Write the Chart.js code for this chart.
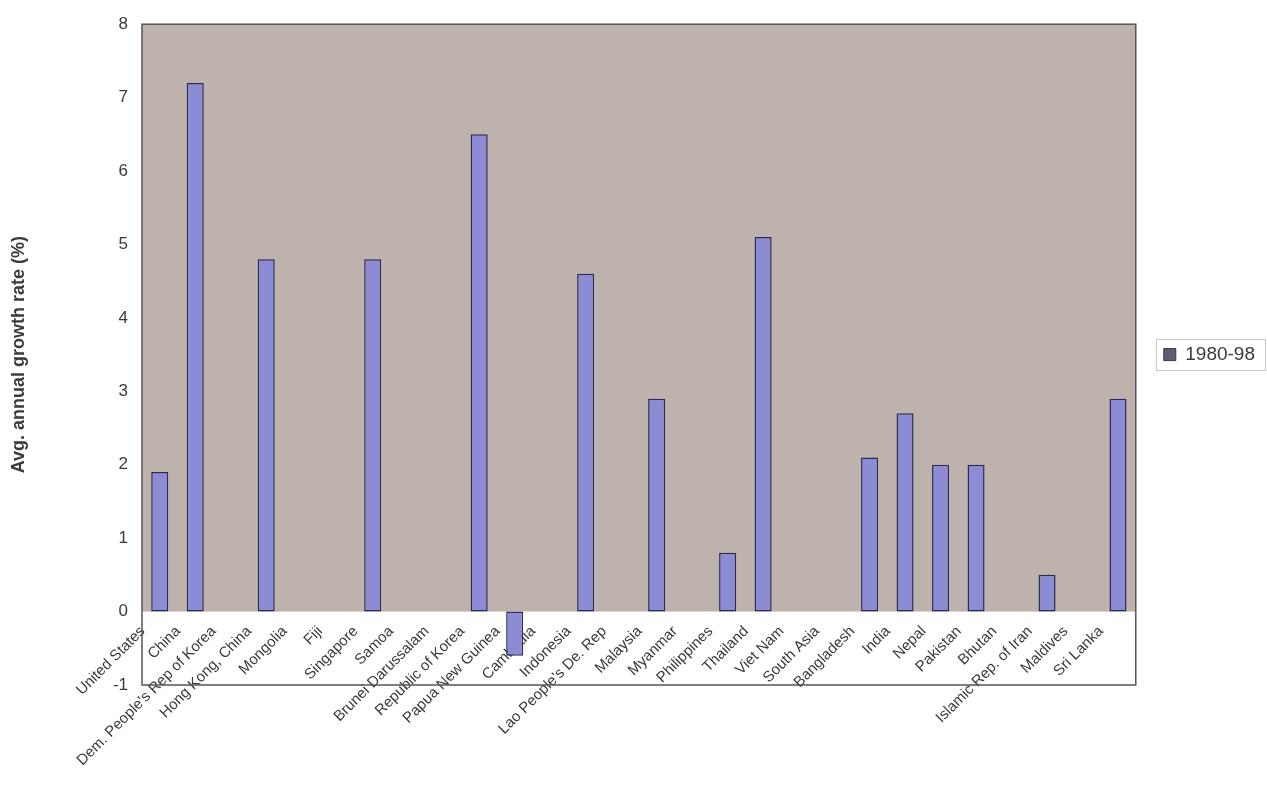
<!DOCTYPE html>
<html>
<head>
<meta charset="utf-8">
<script src="https://cdn.jsdelivr.net/npm/chart.js@4/dist/chart.umd.min.js"></script>
<style>
  html, body { margin: 0; padding: 0; background: #ffffff; }
  #wrap { width: 1267px; height: 795px; }
</style>
</head>
<body>
<div id="wrap"><canvas id="c" width="1267" height="795"></canvas></div>
<script>
// Average annual growth rate by economy, 1980-98
const countries = [
  'United States', 'China', "Dem. People's Rep of Korea", 'Hong Kong, China',
  'Mongolia', 'Fiji', 'Singapore', 'Samoa', 'Brunei Darussalam',
  'Republic of Korea', 'Papua New Guinea', 'Cambodia', 'Indonesia',
  "Lao People's De. Rep", 'Malaysia', 'Myanmar', 'Philippines', 'Thailand',
  'Viet Nam', 'South Asia', 'Bangladesh', 'India', 'Nepal', 'Pakistan',
  'Bhutan', 'Islamic Rep. of Iran', 'Maldives', 'Sri Lanka'
];
const growth1980to98 = [
  1.9, 7.2, null, 4.8,
  null, null, 4.8, null, null,
  6.5, -0.6, null, 4.6,
  null, 2.9, null, 0.8, 5.1,
  null, null, 2.1, 2.7, 2.0, 2.0,
  null, 0.5, null, 2.9
];
const seriesName = '1980-98';
const yTicks = [-1, 0, 1, 2, 3, 4, 5, 6, 7, 8];
const yTitle = 'Avg. annual growth rate (%)';

const textColor = '#3a3a3a';
const fontFamily = '"Liberation Sans", Arial, sans-serif';

// Plot area: shaded above zero, white below, framed by a thin border
const plotBackground = {
  id: 'plotBackground',
  beforeDraw(chart) {
    const { ctx, chartArea: a, scales } = chart;
    const zeroY = scales.y.getPixelForValue(0);
    ctx.save();
    ctx.fillStyle = '#bdb3ac';
    ctx.fillRect(a.left, a.top, a.right - a.left, zeroY - a.top);
    ctx.restore();
  },
  afterDatasetsDraw(chart) {
    const { ctx, chartArea: a } = chart;
    ctx.save();
    ctx.strokeStyle = '#555555';
    ctx.lineWidth = 1.5;
    ctx.strokeRect(a.left, a.top, a.right - a.left, a.bottom - a.top);
    ctx.restore();
  },
  afterDraw(chart) {
    // frame around the legend
    const lg = chart.legend;
    if (!lg || !lg.legendHitBoxes || !lg.legendHitBoxes.length) return;
    const hb = lg.legendHitBoxes[0];
    const ctx = chart.ctx;
    ctx.save();
    ctx.strokeStyle = '#c8c8c8';
    ctx.lineWidth = 1;
    ctx.strokeRect(Math.round(hb.left - 8) + 0.5, Math.round(hb.top - 6) + 0.5,
                   Math.round(hb.width + 18), Math.round(hb.height + 12));
    ctx.restore();
  }
};

new Chart(document.getElementById('c'), {
  type: 'bar',
  data: {
    labels: countries,
    datasets: [{
      label: seriesName,
      data: growth1980to98,
      backgroundColor: '#8c8cd4',
      borderColor: '#2b2b55',
      borderWidth: 1.5,
      borderSkipped: false,
      barPercentage: 0.48,
      categoryPercentage: 1.0
    }]
  },
  options: {
    responsive: false,
    animation: false,
    layout: { padding: { top: 22, right: 2, bottom: 110, left: 0 } },
    plugins: {
      tooltip: { enabled: false },
      legend: {
        position: 'right',
        fullSize: false,
        labels: {
          color: textColor,
          font: { family: fontFamily, size: 19 },
          boxWidth: 12,
          boxHeight: 12,
          padding: 28,
          generateLabels(chart) {
            const items = Chart.defaults.plugins.legend.labels.generateLabels(chart);
            items.forEach(it => { it.fillStyle = '#5c5c74'; it.strokeStyle = '#3a3a3a'; it.lineWidth = 1; });
            return items;
          }
        }
      }
    },
    scales: {
      x: {
        // category axis crosses the value axis at zero
        position: { y: 0 },
        grid: { display: false, drawTicks: false },
        border: { display: false },
        ticks: {
          autoSkip: false,
          minRotation: 45,
          maxRotation: 45,
          padding: 11,
          labelOffset: -17,
          color: textColor,
          font: { family: fontFamily, size: 15 }
        },
        afterFit(scale) { scale.height = 25; }
      },
      y: {
        min: -1,
        max: 8,
        afterBuildTicks(scale) { scale.ticks = yTicks.map(v => ({ value: v })); },
        grid: { display: false, drawTicks: false },
        border: { display: false },
        ticks: {
          padding: 14,
          color: textColor,
          font: { family: fontFamily, size: 17 }
        },
        title: {
          display: true,
          text: yTitle,
          color: textColor,
          font: { family: fontFamily, size: 18, weight: 'bold' },
          padding: { top: 8, bottom: 0 }
        },
        afterFit(scale) { scale.width = 142; }
      }
    }
  },
  plugins: [plotBackground]
});
</script>
</body>
</html>
